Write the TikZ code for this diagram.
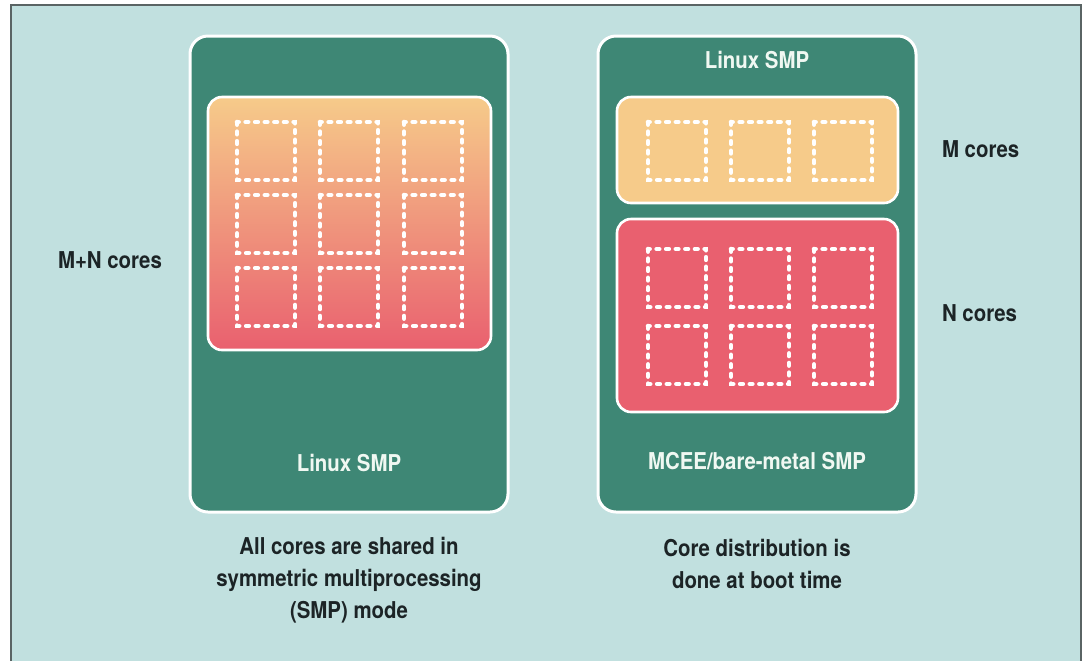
\documentclass[tikz,border=0pt]{standalone}
\usepackage{fontspec}
\setmainfont{TeX Gyre Heros}[FakeStretch=0.88]
\usetikzlibrary{positioning}

\definecolor{bgteal}{RGB}{193,224,223}
\definecolor{framegray}{RGB}{90,100,100}
\definecolor{hostgreen}{RGB}{62,135,117}
\definecolor{coreorange}{RGB}{246,203,138}
\definecolor{corered}{RGB}{233,96,111}
\definecolor{labeldark}{RGB}{28,36,38}
\definecolor{hosttext}{RGB}{240,248,242}

\tikzset{
  hostbox/.style={draw=white, line width=1.5pt, fill=hostgreen, rounded corners=9pt},
  corebox/.style={draw=white, line width=1.3pt, rounded corners=7pt},
  corecell/.style={draw=white, line width=2.3pt, line cap=round, dash pattern=on 1.3pt off 3.5pt},
  hostlabel/.style={text=hosttext},
  sidelabel/.style={text=labeldark},
}

\begin{document}
\begin{tikzpicture}[x=0.5pt,y=-0.5pt,font=\bfseries\fontsize{11.6}{16}\selectfont]
    \useasboundingbox (0,0) rectangle (1089,661);
    \fill [bgteal] (11,5) rectangle (1081,661);
    \draw [framegray, line width=1pt] (11,661) -- (11,5) -- (1081,5) -- (1081,661);

    % host boxes
    \draw [hostbox] (190,36) rectangle (508,512);
    \draw [hostbox] (598,36) rectangle (916,512);

    % core groups
    \draw [corebox, top color=coreorange, bottom color=corered] (208,97) rectangle (491,350);
    \draw [corebox, fill=coreorange] (617,97) rectangle (898,203);
    \draw [corebox, fill=corered] (617,219) rectangle (898,412);

    \foreach \x in {237,320,404}
    {
      \foreach \y in {122,195,268}
      {
        \draw [corecell] (\x,\y) rectangle ++(58,58);
      }
    }
    \foreach \x in {648,731,814}
    {
      \draw [corecell] (\x,122) rectangle ++(58,58);
      \foreach \y in {249,326}
      {
        \draw [corecell] (\x,\y) rectangle ++(58,58);
      }
    }

    \node [hostlabel] (linuxleft)  at (349,463) {Linux SMP};
    \node [hostlabel] (linuxright) at (757,60)  {Linux SMP};
    \node [hostlabel] (mcee)       at (757,461) {MCEE/bare-metal SMP};

    \node [sidelabel] (mncores) at (110,260) {M+N cores};
    \node [sidelabel, anchor=west] (mcores) at (935,149) {M cores};
    \node [sidelabel, anchor=west] (ncores) at (935,313) {N cores};

    \node [sidelabel, align=center] (capleft)  at (349,580) {All cores are shared in\\symmetric multiprocessing\\(SMP) mode};
    \node [sidelabel, align=center] (capright) at (757,564) {Core distribution is\\done at boot time};
\end{tikzpicture}
\end{document}
